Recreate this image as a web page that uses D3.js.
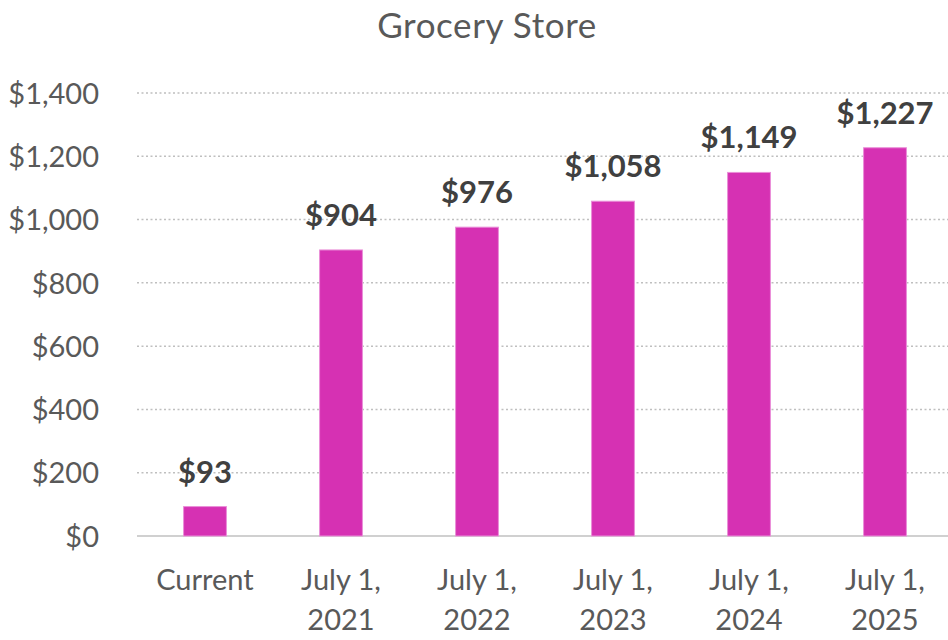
<!DOCTYPE html>
<html><head><meta charset="utf-8">
<script src="https://cdn.jsdelivr.net/npm/d3@7"></script>
<style>body{margin:0;background:#fff;} svg{display:block;}</style>
</head><body>
<svg id="c" width="948" height="640"></svg>
<script>
const categories = [["Current"],["July 1,","2021"],["July 1,","2022"],["July 1,","2023"],["July 1,","2024"],["July 1,","2025"]];
const values = [93, 904, 976, 1058, 1149, 1227];
const yTicks = [0, 200, 400, 600, 800, 1000, 1200, 1400];
const title = "Grocery Store";

const svg = d3.select("#c");
const font = "Lato, 'Open Sans', sans-serif";
const x = d3.scaleBand().domain(d3.range(categories.length)).range([137, 953]).paddingInner(0.685).paddingOuter(0.3425);
const y = d3.scaleLinear().domain([0, 1400]).range([536, 93]);

svg.append("text").attr("x", 487).attr("y", 38).attr("text-anchor", "middle")
  .attr("font-family", font).attr("font-size", 35).attr("letter-spacing", 0.6).attr("fill", "#595959").text(title);

const grid = svg.append("g");
grid.selectAll("line").data(yTicks.filter(d => d > 0)).join("line")
  .attr("x1", 137).attr("x2", 948).attr("y1", d => y(d)).attr("y2", d => y(d))
  .attr("stroke", "#bfbfbf").attr("stroke-width", 1.5).attr("stroke-dasharray", "2,2.5");

const yAxis = svg.append("g").attr("transform", "translate(99,0)")
  .call(d3.axisLeft(y).tickValues(yTicks).tickSize(0).tickPadding(0).tickFormat(d => "$" + d3.format(",")(d)));
yAxis.select(".domain").remove();
yAxis.selectAll("text").attr("font-family", font).attr("font-size", 29).attr("fill", "#595959").attr("dy", "0.35em");

svg.append("line").attr("x1", 137).attr("x2", 948).attr("y1", y(0)).attr("y2", y(0))
  .attr("stroke", "#d0d0d0").attr("stroke-width", 2);

svg.append("g").selectAll("rect").data(values).join("rect")
  .attr("x", (d, i) => x(i)).attr("width", x.bandwidth())
  .attr("y", d => y(d)).attr("height", d => y(0) - y(d))
  .attr("fill", "#d631b3").attr("stroke", "#ea8fd8").attr("stroke-width", 1);

svg.append("g").selectAll("text").data(values).join("text")
  .attr("x", (d, i) => x(i) + x.bandwidth() / 2).attr("y", d => y(d) - 24)
  .attr("text-anchor", "middle").attr("font-family", font).attr("font-weight", "bold")
  .attr("font-size", 31).attr("fill", "#404040").text(d => "$" + d3.format(",")(d));

const xl = svg.append("g").selectAll("text").data(categories).join("text")
  .attr("x", (d, i) => x(i) + x.bandwidth() / 2).attr("y", 590)
  .attr("text-anchor", "middle").attr("font-family", font).attr("font-size", 29).attr("fill", "#595959");
xl.each(function(d, i) {
  const t = d3.select(this);
  d.forEach((line, j) => t.append("tspan").attr("x", x(i) + x.bandwidth() / 2).attr("dy", j === 0 ? 0 : 40).text(line));
});
</script>
</body></html>
